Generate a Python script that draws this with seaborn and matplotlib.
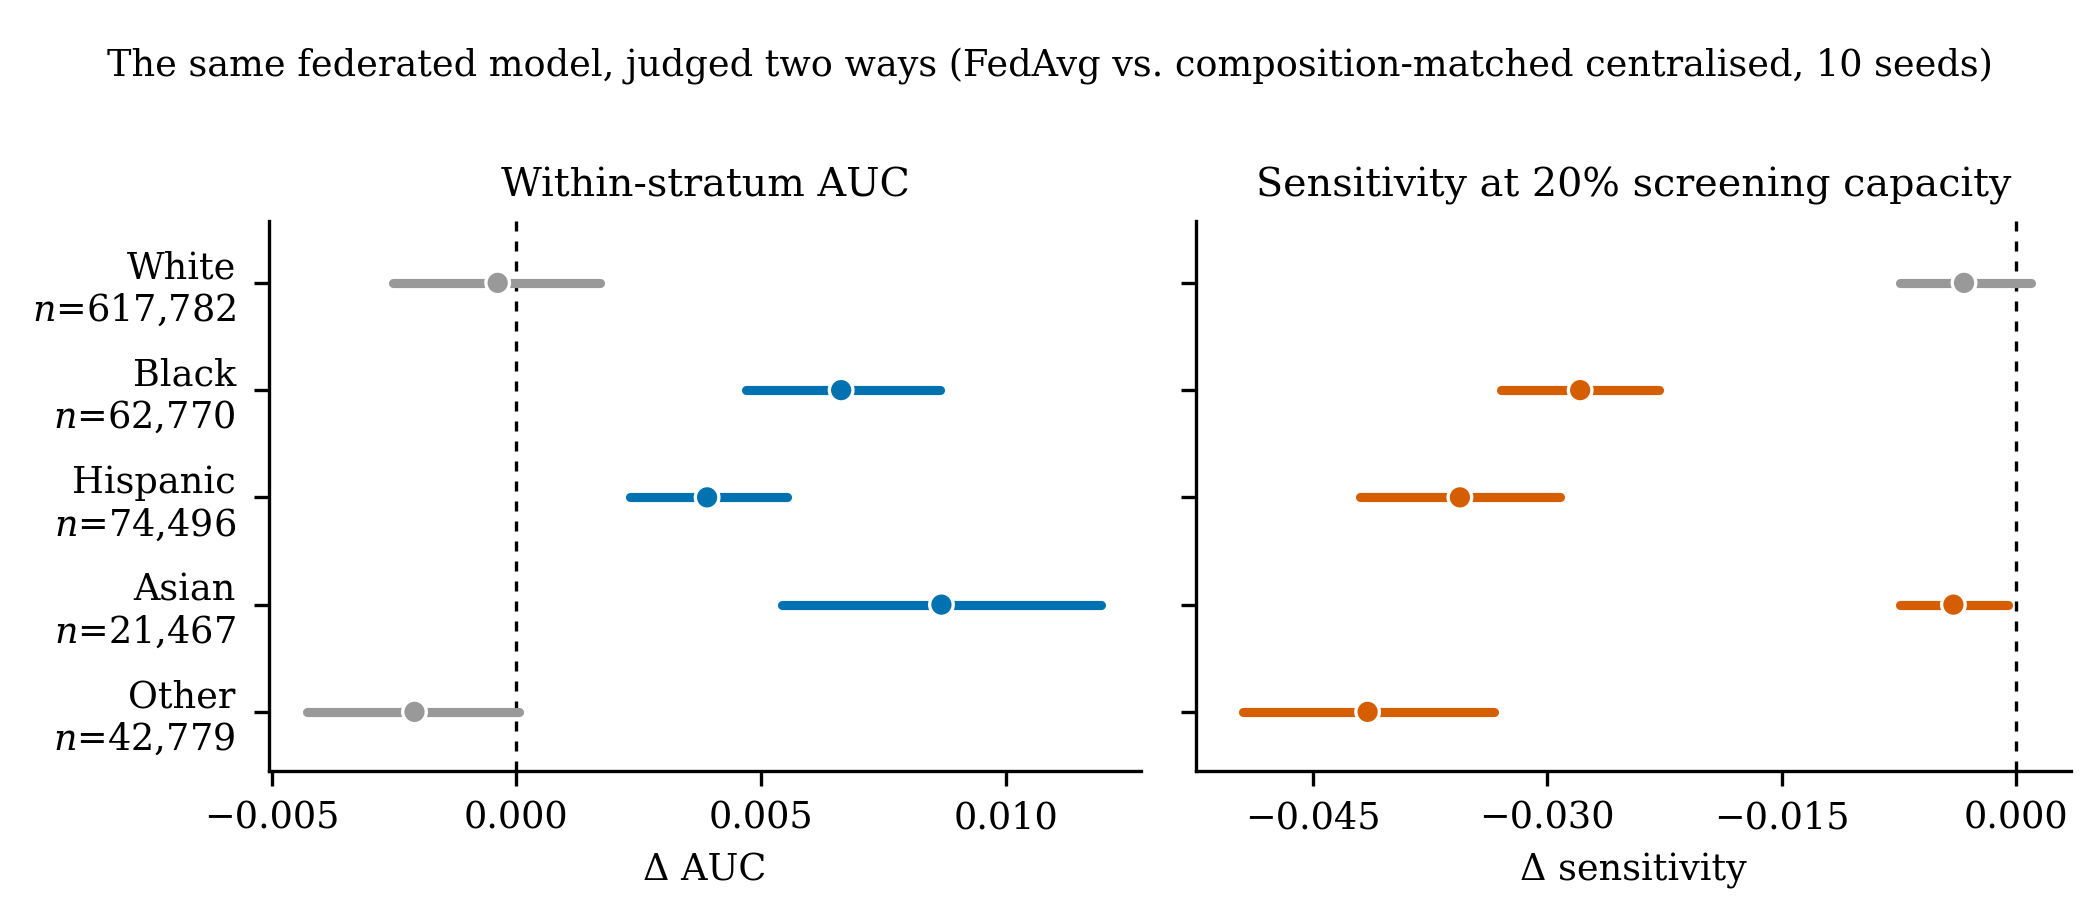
import numpy as np
import pandas as pd
import matplotlib
matplotlib.use("Agg")
import matplotlib.pyplot as plt
import seaborn as sns

sns.set_theme(style="ticks")
plt.rcParams['font.family'] = ['DejaVu Serif']
plt.rcParams['mathtext.fontset'] = 'dejavuserif'
for k in ['text.color', 'axes.labelcolor', 'xtick.color', 'ytick.color', 'axes.edgecolor']:
    plt.rcParams[k] = 'black'

# groups, top to bottom
groups = ["White", "Black", "Hispanic", "Asian", "Other"]
group_n = ["617,782", "62,770", "74,496", "21,467", "42,779"]

# FedAvg minus centralised, mean and 95% interval over 10 seeds
auc_mean = [-0.00038, 0.00664, 0.00390, 0.00869, -0.00208]
auc_lo = [-0.00252, 0.00470, 0.00233, 0.00544, -0.00427]
auc_hi = [0.00172, 0.00866, 0.00554, 0.01196, 0.00005]

sens_mean = [-0.00332, -0.02790, -0.03560, -0.00400, -0.04151]
sens_lo = [-0.00745, -0.03300, -0.04200, -0.00745, -0.04950]
sens_hi = [0.00095, -0.02285, -0.02920, -0.00050, -0.03342]

GREY = "#999999"
colours = {"auc": "#0072B2", "sens": "#D55E00"}


def forest(ax, mean, lo, hi, colour, title, xlabel):
    df = pd.DataFrame({"group": groups, "mean": mean, "lo": lo, "hi": hi})
    df["pos"] = np.arange(len(df))
    # grey when the interval crosses zero
    df["c"] = [GREY if (l < 0 < h) else colour for l, h in zip(df["lo"], df["hi"])]
    ax.axvline(0, color="black", ls=(0, (3, 3)), lw=0.8, zorder=1)
    for _, r in df.iterrows():
        ax.hlines(r["pos"], r["lo"], r["hi"], color=r["c"], lw=2.2,
                  capstyle="round", zorder=2)
    sns.scatterplot(data=df, x="mean", y="pos", hue="c", palette={c: c for c in df["c"]},
                    s=32, edgecolor="white", linewidth=0.8, legend=False, zorder=3, ax=ax)
    ax.set_ylim(4.55, -0.575)
    ax.set_yticks(df["pos"])
    ax.set_title(title, fontsize=9.5)
    ax.set_xlabel(xlabel, fontsize=8.8)
    ax.set_ylabel("")
    ax.tick_params(labelsize=8.8, width=0.8, length=3.5)
    for s in ["left", "bottom"]:
        ax.spines[s].set_linewidth(0.8)
    sns.despine(ax=ax)


fig, axes = plt.subplots(1, 2, figsize=(7.0, 3.07), dpi=300)

forest(axes[0], auc_mean, auc_lo, auc_hi, colours["auc"], "Within-stratum AUC", "Δ AUC")
forest(axes[1], sens_mean, sens_lo, sens_hi, colours["sens"],
       "Sensitivity at 20% screening capacity", "Δ sensitivity")

axes[0].set_yticklabels([f"{g}\n$n$={n}" for g, n in zip(groups, group_n)], ha="right",
                        multialignment="right")
axes[0].tick_params(axis="y", pad=4.5)
axes[1].set_yticklabels([])

fmt = matplotlib.ticker.FuncFormatter(lambda v, p: f"{v:.3f}".replace("-", "\u2212"))
axes[0].set_xlim(-0.00505, 0.01277)
axes[0].set_xticks([-0.005, 0.0, 0.005, 0.010])
axes[0].xaxis.set_major_formatter(fmt)
axes[1].set_xlim(-0.0525, 0.0035)
axes[1].set_xticks([-0.045, -0.030, -0.015, 0.0])
axes[1].xaxis.set_major_formatter(fmt)

W, H = 1568, 687
axes[0].set_position([201 / W, 1 - 575 / H, 651 / W, 410 / H])
axes[1].set_position([893 / W, 1 - 575 / H, 653 / W, 410 / H])

fig.suptitle("The same federated model, judged two ways (FedAvg vs. composition-matched "
             "centralised, 10 seeds)", fontsize=8.8, y=1 - 35 / H)

fig.savefig("out.png", dpi=300)
